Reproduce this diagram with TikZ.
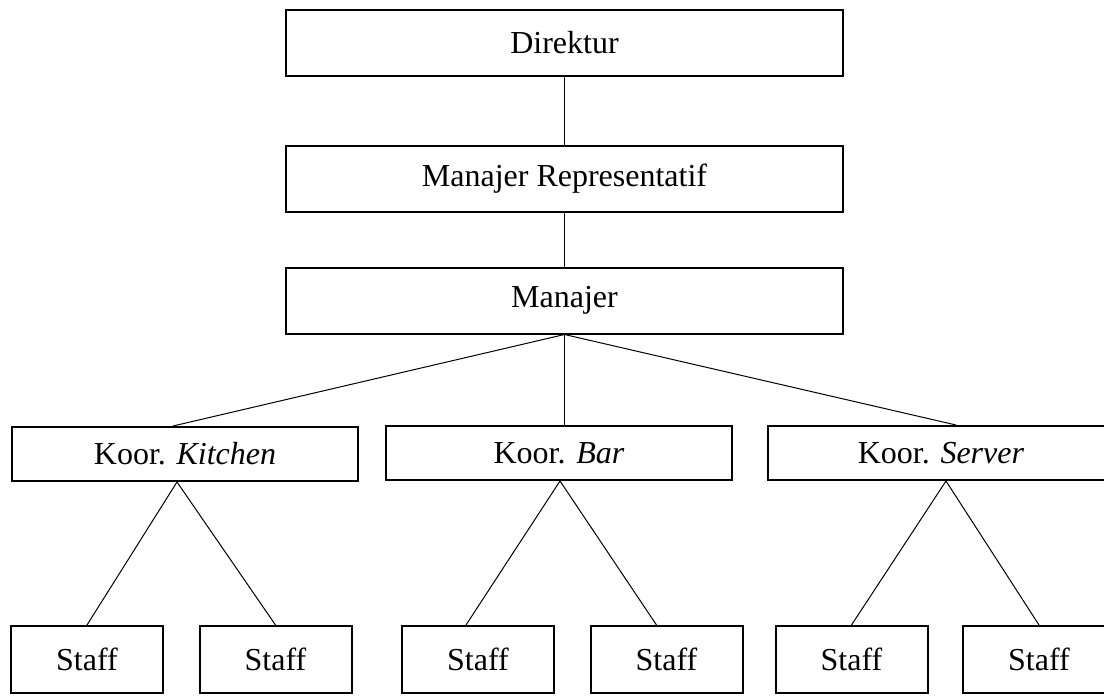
\documentclass[tikz,border=0pt]{standalone}
\usepackage{fontspec}
\setmainfont{Liberation Serif}
\usetikzlibrary{calc}
\begin{document}
\begin{tikzpicture}[x=0.5pt,y=-0.5pt,
  box/.style={draw=black,line width=1pt,inner sep=0pt,minimum height=#1*0.5pt},
  box/.default=66,
  topbox/.style={box=66,minimum width=557*0.5pt},
  koorbox/.style={box=54,minimum width=346*0.5pt},
  staffbox/.style={box=67,minimum width=152*0.5pt},
  conn/.style={draw=black,line width=0.5pt},
  font=\fontsize{16}{19}\selectfont]
\useasboundingbox (0,0) rectangle (1104,696);
\node[topbox] (dir) at (564.5,42.5) {Direktur};
\node[topbox] (mr) at (564.5,179) {Manajer Representatif};
\node[topbox] (man) at (564.5,300.5) {Manajer};
\node[koorbox] (kit) at (185,454) {Koor. \textit{Kitchen}};
\node[koorbox] (bar) at (559,453) {Koor. \textit{Bar}};
\node[koorbox] (srv) at (941,453) {Koor. \textit{Server}};
\node[staffbox] (s1) at (87,659.5) {Staff};
\node[staffbox] (s2) at (275.5,659.5) {Staff};
\node[staffbox] (s3) at (478,659.5) {Staff};
\node[staffbox] (s4) at (666.5,659.5) {Staff};
\node[staffbox] (s5) at (851.5,659.5) {Staff};
\node[staffbox] (s6) at (1039,659.5) {Staff};
\draw[conn] (dir.south) -- (mr.north);
\draw[conn] (mr.south) -- (man.north);
\draw[conn] (man.south) -- ([xshift=-6pt]kit.north);
\draw[conn] (man.south) -- (man.south |- bar.north);
\draw[conn] (man.south) -- ([xshift=7.5pt]srv.north);
\draw[conn] (s1.north) -- ([xshift=-4pt]kit.south) -- (s2.north);
\draw[conn] ([xshift=-6pt]s3.north) -- ([xshift=0.5pt]bar.south) -- ([xshift=-5pt]s4.north);
\draw[conn] (s5.north) -- ([xshift=2.5pt]srv.south) -- (s6.north);
\end{tikzpicture}
\end{document}
